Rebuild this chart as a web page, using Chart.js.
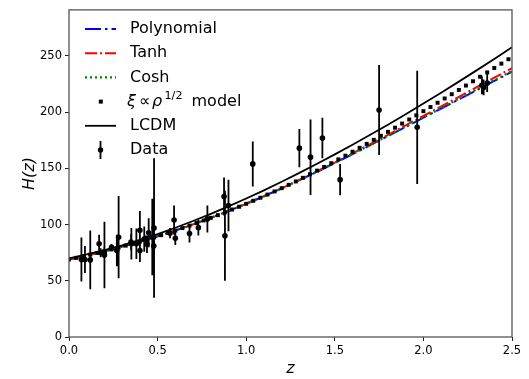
<!DOCTYPE html>
<html>
<head>
<meta charset="utf-8">
<script src="https://cdn.jsdelivr.net/npm/chart.js@4.4.0/dist/chart.umd.min.js"></script>
<style>
  body { margin: 0; background: #fff; }
  canvas { display: block; }
</style>
</head>
<body>
<canvas id="hz" width="529" height="379"></canvas>
<script>
// observed H(z) points (cosmic chronometers + BAO)
var dataZ = [0.07, 0.09, 0.12, 0.17, 0.179, 0.199, 0.2, 0.27, 0.28, 0.352, 0.3802, 0.4, 0.4004, 0.4247, 0.4497,
  0.47, 0.4783, 0.48, 0.593, 0.68, 0.781, 0.875, 0.88, 0.9, 1.037, 1.3, 1.363, 1.43, 1.53, 1.75, 1.965,
  0.24, 0.35, 0.43, 0.44, 0.57, 0.6, 0.73, 2.33, 2.34, 2.36];
var dataH = [69, 69, 68.6, 83, 75, 75, 72.9, 77, 88.8, 83, 83, 95, 77, 87.1, 92.8,
  89, 80.9, 97, 104, 92, 105, 125, 90, 117, 154, 168, 160, 177, 140, 202, 186.5,
  79.7, 84.4, 86.5, 82.6, 92.4, 87.9, 97.3, 224, 222, 226];
var dataErr = [19.6, 12, 26.2, 8, 4, 5, 29.6, 14, 36.6, 14, 13.5, 17, 10.2, 11.2, 12.9,
  34, 9, 62, 13, 8, 12, 17, 40, 23, 20, 17, 33.6, 18, 14, 40, 50.4,
  3, 7, 3.7, 7.8, 4.5, 6.1, 7, 8, 7, 8];

// model curves
var modelZ = [0, 0.1, 0.2, 0.3, 0.4, 0.5, 0.6, 0.7, 0.8, 0.9, 1.0, 1.1, 1.2, 1.3, 1.4,
  1.5, 1.6, 1.7, 1.8, 1.9, 2.0, 2.1, 2.2, 2.3, 2.4, 2.5];
var polyH = [69.0, 72.5, 76.3, 80.4, 84.8, 89.6, 94.7, 100.2, 106.0, 112.1, 118.5, 125.2, 132.2, 139.5, 147.0,
  154.8, 162.6, 170.7, 178.8, 186.9, 195.1, 203.2, 211.4, 219.6, 227.8, 236.0];
var tanhH = [69.0, 72.5, 76.3, 80.4, 84.8, 89.6, 94.7, 100.2, 106.0, 112.1, 118.5, 125.2, 132.3, 139.7, 147.4,
  155.2, 163.3, 171.6, 179.9, 188.3, 196.7, 205.1, 213.6, 222.2, 230.7, 239.2];
var coshH = [69.0, 72.5, 76.3, 80.4, 84.8, 89.6, 94.7, 100.2, 106.0, 112.1, 118.5, 125.2, 132.2, 139.5, 147.1,
  154.9, 162.8, 170.9, 179.0, 187.2, 195.4, 203.6, 211.9, 220.2, 228.4, 236.6];
var lcdmH = [70.0, 73.4, 77.3, 81.6, 86.4, 91.6, 97.2, 103.2, 109.6, 116.2, 123.2, 130.5, 138.1, 146.0, 154.1,
  162.5, 171.1, 179.9, 188.9, 198.2, 207.7, 217.3, 227.2, 237.2, 247.4, 257.8];

// xi ~ rho^(1/2) model, drawn as markers
var xiZ = [0, 0.04, 0.08, 0.12, 0.16, 0.2, 0.24, 0.28, 0.32, 0.36, 0.4, 0.44, 0.48, 0.52, 0.56, 0.6,
  0.64, 0.68, 0.72, 0.76, 0.8, 0.84, 0.88, 0.92, 0.96, 1.0, 1.04, 1.08, 1.12, 1.16, 1.2, 1.24,
  1.28, 1.32, 1.36, 1.4, 1.44, 1.48, 1.52, 1.56, 1.6, 1.64, 1.68, 1.72, 1.76, 1.8, 1.84, 1.88,
  1.92, 1.96, 2.0, 2.04, 2.08, 2.12, 2.16, 2.2, 2.24, 2.28, 2.32, 2.36, 2.4, 2.44, 2.48];
var xiH = [69.0, 70.4, 71.8, 73.3, 74.8, 76.3, 77.9, 79.6, 81.3, 83.0, 84.8, 86.7, 88.6, 90.6, 92.7, 94.7,
  96.9, 99.1, 101.4, 103.7, 106.0, 108.4, 110.9, 113.4, 115.9, 118.5, 121.2, 123.9, 126.7, 129.5, 132.4, 135.4,
  138.4, 141.6, 144.8, 148.0, 151.3, 154.6, 158.0, 161.3, 164.8, 168.3, 171.8, 175.4, 179.0, 182.5, 186.2, 189.9,
  193.5, 197.2, 200.9, 204.6, 208.4, 212.2, 216.0, 219.8, 223.7, 227.5, 231.5, 235.4, 239.3, 243.2, 247.1];

var xTicks = [0, 0.5, 1.0, 1.5, 2.0, 2.5];
var yTicks = [0, 50, 100, 150, 200, 250];

function pts(xs, ys) {
  return xs.map(function(x, i) { return {x: x, y: ys[i]}; });
}

var tickFont = {family: 'DejaVu Sans', size: 11.5};
var titleFont = {family: 'DejaVu Sans', size: 16, style: 'italic'};

// vertical error bars on the data points
var errorBars = {
  id: 'errorBars',
  afterDatasetsDraw: function(chart) {
    var ctx = chart.ctx, xs = chart.scales.x, ys = chart.scales.y;
    ctx.save();
    ctx.strokeStyle = '#000';
    ctx.lineWidth = 1.8;
    ctx.beginPath();
    for (var i = 0; i < dataZ.length; i++) {
      var px = xs.getPixelForValue(dataZ[i]);
      ctx.moveTo(px, ys.getPixelForValue(dataH[i] - dataErr[i]));
      ctx.lineTo(px, ys.getPixelForValue(dataH[i] + dataErr[i]));
    }
    ctx.stroke();
    ctx.restore();
  }
};

// box round the plot area
var frame = {
  id: 'frame',
  afterDraw: function(chart) {
    var a = chart.chartArea, ctx = chart.ctx;
    ctx.save();
    ctx.strokeStyle = '#555';
    ctx.lineWidth = 1.3;
    ctx.strokeRect(a.left, a.top, a.right - a.left, a.bottom - a.top);
    ctx.restore();
  }
};

// matplotlib-like legend in the upper left corner
var legendBox = {
  id: 'legendBox',
  afterDraw: function(chart) {
    var ctx = chart.ctx;
    var x0 = 85, x1 = 116, tx = 130, y0 = 29, dy = 24.2;
    ctx.save();
    ctx.textBaseline = 'middle';
    ctx.fillStyle = '#000';

    function handle(y, color, dash, w) {
      ctx.strokeStyle = color;
      ctx.lineWidth = w;
      ctx.setLineDash(dash);
      ctx.beginPath();
      ctx.moveTo(x0, y);
      ctx.lineTo(x1, y);
      ctx.stroke();
      ctx.setLineDash([]);
    }
    function label(txt, x, y, size, italic) {
      ctx.font = (italic ? 'italic ' : '') + size + 'px "DejaVu Sans"';
      ctx.fillText(txt, x, y);
    }

    var y = y0;
    handle(y, '#0000ff', [16, 4, 2.5, 4], 2);
    label('Polynomial', tx, y, 16);
    y += dy;
    handle(y, '#ff0000', [12, 3, 2, 3], 2);
    label('Tanh', tx, y, 16);
    y += dy;
    handle(y, '#008000', [2, 3], 2.2);
    label('Cosh', tx, y, 16);
    y += dy;
    ctx.fillRect(98.8, y - 2, 4, 4);
    label('\u03be', 127, y, 16, true);
    label('\u221d', 139, y, 16);
    label('\u03c1', 152, y, 16, true);
    label('1/2', 164.5, y - 5.5, 11.2);
    label('model', 191.5, y, 16);
    y += dy;
    handle(y, '#000', [], 1.8);
    label('LCDM', tx, y, 16);
    y += dy;
    ctx.strokeStyle = '#000';
    ctx.lineWidth = 1.8;
    ctx.beginPath();
    ctx.moveTo(100.5, y - 9);
    ctx.lineTo(100.5, y + 9);
    ctx.stroke();
    ctx.beginPath();
    ctx.arc(100.5, y, 2.7, 0, Math.PI * 2);
    ctx.fill();
    label('Data', tx, y, 16);
    ctx.restore();
  }
};

new Chart(document.getElementById('hz'), {
  type: 'scatter',
  data: {
    datasets: [
      {label: 'Data', data: pts(dataZ, dataH), order: 0,
        pointRadius: 2.8, pointBackgroundColor: '#000', pointBorderWidth: 0, showLine: false},
      {label: 'LCDM', data: pts(modelZ, lcdmH), order: 1, showLine: true,
        borderColor: '#000', borderWidth: 1.8, pointRadius: 0, tension: 0},
      {label: 'xi model', data: pts(xiZ, xiH), order: 2, showLine: false,
        pointStyle: 'rect', pointRadius: 2.8, pointBackgroundColor: '#000', pointBorderWidth: 0},
      {label: 'Cosh', data: pts(modelZ, coshH), order: 3, showLine: true,
        borderColor: '#008000', borderWidth: 2.2, borderDash: [2, 3], pointRadius: 0},
      {label: 'Tanh', data: pts(modelZ, tanhH), order: 4, showLine: true,
        borderColor: '#ff0000', borderWidth: 2, borderDash: [12, 3, 2, 3], pointRadius: 0},
      {label: 'Polynomial', data: pts(modelZ, polyH), order: 5, showLine: true,
        borderColor: '#0000ff', borderWidth: 2, borderDash: [16, 4, 2.5, 4], pointRadius: 0}
    ]
  },
  options: {
    responsive: false,
    animation: false,
    layout: {padding: {top: 7, right: 17, left: 0, bottom: 0}},
    plugins: {legend: {display: false}, tooltip: {enabled: false}},
    scales: {
      x: {
        type: 'linear', min: 0, max: 2.5,
        afterBuildTicks: function(s) { s.ticks = xTicks.map(function(v) { return {value: v}; }); },
        afterFit: function(s) { s.height = 42; },
        grid: {drawOnChartArea: false, drawTicks: true, tickLength: 4, color: '#222', lineWidth: 1},
        border: {display: false},
        ticks: {callback: function(v) { return v.toFixed(1); }, font: tickFont, color: '#000',
          padding: 3, maxRotation: 0, autoSkip: false},
        title: {display: true, text: 'z', font: titleFont, color: '#000', padding: {top: 0, bottom: 1}}
      },
      y: {
        type: 'linear', min: 0, max: 291,
        afterBuildTicks: function(s) { s.ticks = yTicks.map(function(v) { return {value: v}; }); },
        afterFit: function(s) { s.width = 69; },
        grid: {drawOnChartArea: false, drawTicks: true, tickLength: 4, color: '#222', lineWidth: 1},
        border: {display: false},
        ticks: {font: tickFont, color: '#000', padding: 3, autoSkip: false},
        title: {display: true, text: 'H(z)', font: titleFont, color: '#000', padding: {top: 20.4, bottom: 0}}
      }
    }
  },
  plugins: [errorBars, frame, legendBox]
});
</script>
</body>
</html>
